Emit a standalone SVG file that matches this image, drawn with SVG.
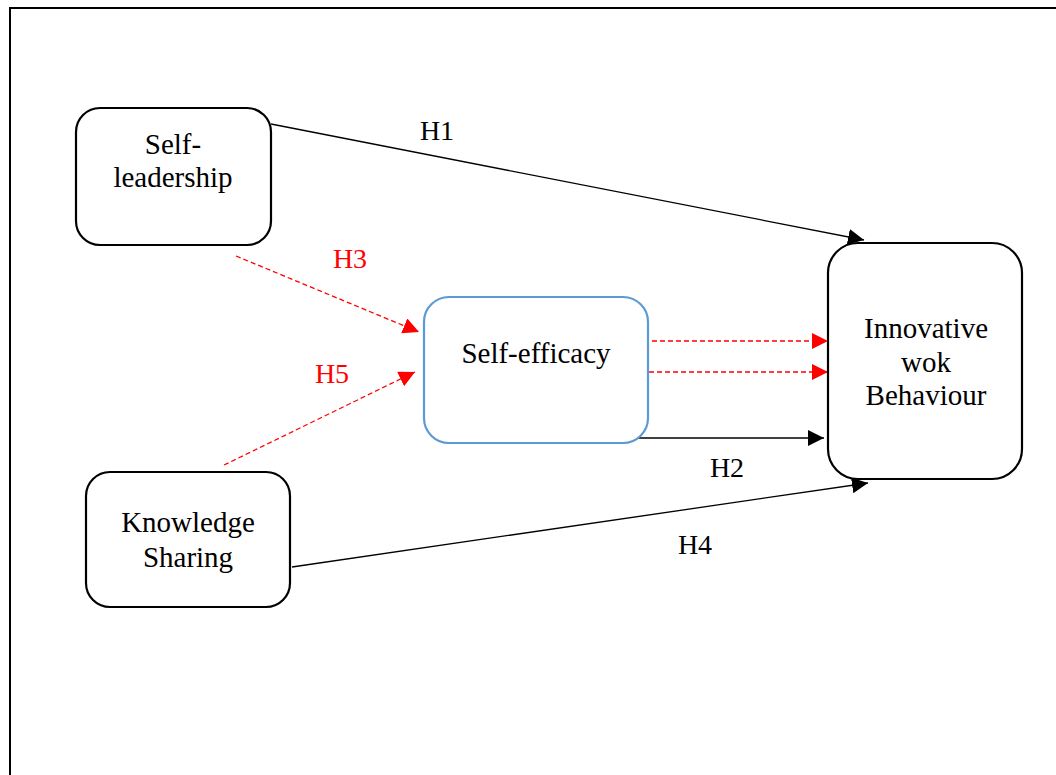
<svg xmlns="http://www.w3.org/2000/svg" width="1056" height="775" viewBox="0 0 1056 775">
<style>
.box{fill:#fff;stroke:#000;stroke-width:2.2}
.blue{fill:#fff;stroke:#5B9BD5;stroke-width:2.2}
.t{font-size:29px;fill:#000;text-anchor:middle}
.lab{font-size:28px;text-anchor:middle}
.k{stroke:#000;stroke-width:1.3;fill:none}
.r{stroke:#FF0000;stroke-width:1.3;fill:none;stroke-dasharray:5,3}
</style>
<defs>
<marker id="ab" markerUnits="userSpaceOnUse" markerWidth="16" markerHeight="16" viewBox="0 0 16 16" refX="16" refY="8" orient="auto"><path d="M0,0 L16,8 L0,16 Z" fill="#000"/></marker>
<marker id="ar" markerUnits="userSpaceOnUse" markerWidth="16" markerHeight="16" viewBox="0 0 16 16" refX="16" refY="8" orient="auto"><path d="M0,0 L16,8 L0,16 Z" fill="#FF0000"/></marker>
</defs>
<rect x="0" y="0" width="1056" height="775" fill="#fff"/>
<path d="M10,776 V8 H1057" fill="none" stroke="#000" stroke-width="2"/>
<g font-family="'Liberation Serif', 'Times New Roman', serif">
<g id="connectors">
<line class="k" x1="271" y1="124" x2="864" y2="240" marker-end="url(#ab)"/>
<line class="k" x1="633" y1="438" x2="824" y2="438" marker-end="url(#ab)"/>
<line class="k" x1="292" y1="567" x2="868" y2="483" marker-end="url(#ab)"/>
<line class="r" x1="236" y1="256" x2="419" y2="332" marker-end="url(#ar)"/>
<line class="r" x1="224" y1="465" x2="415" y2="372" marker-end="url(#ar)"/>
<line class="r" x1="652" y1="341" x2="828" y2="341" marker-end="url(#ar)"/>
<line class="r" x1="649" y1="372" x2="828" y2="372" marker-end="url(#ar)"/>
<text class="lab" x="437" y="140" fill="#000">H1</text>
<text class="lab" x="727" y="477" fill="#000">H2</text>
<text class="lab" x="695" y="554" fill="#000">H4</text>
<text class="lab" x="350" y="268" fill="#FF0000">H3</text>
<text class="lab" x="332" y="383" fill="#FF0000">H5</text>
</g>
<g id="self-leadership">
<rect class="box" x="76" y="108" width="195" height="137" rx="24"/>
<text class="t" x="173" y="154">Self-</text>
<text class="t" x="173" y="187">leadership</text>
</g>
<g id="self-efficacy">
<rect class="blue" x="424" y="297" width="224" height="146" rx="25"/>
<text class="t" x="536" y="363">Self-efficacy</text>
</g>
<g id="innovative">
<rect class="box" x="828" y="243" width="194" height="236" rx="30"/>
<text class="t" x="926" y="338">Innovative</text>
<text class="t" x="926" y="372">wok</text>
<text class="t" x="926" y="405">Behaviour</text>
</g>
<g id="knowledge-sharing">
<rect class="box" x="86" y="472" width="204" height="135" rx="24"/>
<text class="t" x="188" y="532">Knowledge</text>
<text class="t" x="188" y="567">Sharing</text>
</g>
</g>
</svg>
